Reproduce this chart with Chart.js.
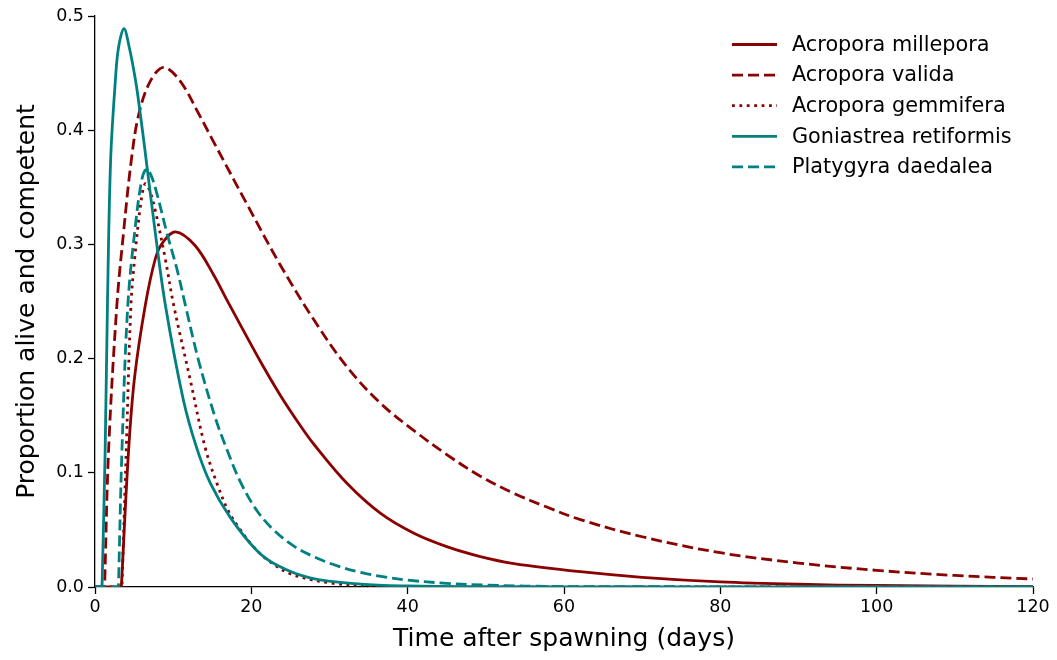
<!DOCTYPE html>
<html>
<head>
<meta charset="utf-8">
<script src="https://cdn.jsdelivr.net/npm/chart.js@4/dist/chart.umd.min.js"></script>
<style>
  html, body { margin: 0; padding: 0; background: #fff; }
</style>
</head>
<body>
<canvas id="chart" width="1057" height="660"></canvas>
<script>
// values (days after spawning, proportion)
// the onset point is listed twice so the spline turns a corner there instead of hooking
const milleporaDays   = [0, 3.37, 3.37, 4.3, 5.07, 6.44, 7.7, 8.6, 10.3, 12.8, 15.2, 16.9, 21.2, 23.7, 26.3, 28, 32.2, 36.5, 40.8, 45, 49.3, 53.6, 62.1, 70, 80, 90, 100, 120];
const milleporaValues = [0, 0, 0, 0.12, 0.184, 0.247, 0.287, 0.301, 0.311, 0.299, 0.273, 0.251, 0.197, 0.168, 0.141, 0.125, 0.091, 0.0646, 0.047, 0.0353, 0.0266, 0.0205, 0.0134, 0.0085, 0.0045, 0.0024, 0.0013, 0.0004];

const validaDays   = [0, 1.23, 1.23, 1.74, 2.8, 3.66, 4.65, 5.6, 7.08, 8.8, 10.9, 13.3, 15, 19.3, 23.7, 28, 32.2, 36.5, 40.8, 45, 49.3, 53.6, 57.8, 62.1, 70, 80, 90, 100, 110, 120];
const validaValues = [0, 0, 0, 0.12, 0.247, 0.311, 0.374, 0.414, 0.443, 0.455, 0.443, 0.414, 0.392, 0.337, 0.282, 0.234, 0.193, 0.161, 0.137, 0.116, 0.097, 0.082, 0.070, 0.059, 0.044, 0.030, 0.021, 0.0146, 0.0101, 0.007];

const gemmiferaDays   = [0, 3.45, 3.45, 4.0, 4.6, 5.07, 5.8, 6.4, 7.0, 7.7, 9.0, 10.06, 12.2, 14.1, 15.8, 17.1, 18.6, 20.3, 22.4, 25.4, 30.5, 35, 40, 50, 120];
const gemmiferaValues = [0, 0, 0, 0.12, 0.247, 0.287, 0.333, 0.353, 0.347, 0.33, 0.287, 0.247, 0.181, 0.122, 0.087, 0.066, 0.050, 0.035, 0.022, 0.0105, 0.0032, 0.0012, 0.0004, 0.0001, 0];

const goniastreaDays   = [0, 0.9, 0.9, 1.3, 1.6, 2.0, 2.6, 3.0, 3.7, 4.4, 5.2, 5.8, 6.4, 7.7, 9.0, 11.3, 13.0, 14.75, 17.3, 20.7, 23.3, 27.5, 34, 40, 50, 60, 120];
const goniastreaValues = [0, 0, 0, 0.12, 0.25, 0.374, 0.443, 0.472, 0.489, 0.472, 0.443, 0.414, 0.382, 0.311, 0.247, 0.164, 0.122, 0.091, 0.061, 0.032, 0.019, 0.008, 0.0025, 0.0009, 0.0002, 0.0001, 0];

const platygyraDays   = [0, 3.0, 3.0, 3.45, 4.2, 5.16, 6.0, 6.6, 7.2, 7.9, 9.2, 10.5, 11.55, 13.3, 15.4, 16.9, 18.6, 20.7, 22.85, 25.4, 28, 31, 34, 37, 40, 45, 50, 60, 120];
const platygyraValues = [0, 0, 0, 0.12, 0.247, 0.316, 0.357, 0.366, 0.360, 0.345, 0.31, 0.278, 0.247, 0.197, 0.148, 0.12, 0.092, 0.067, 0.050, 0.036, 0.0265, 0.0185, 0.0128, 0.0088, 0.006, 0.0032, 0.0017, 0.0004, 0];

const seriesNames = ['Acropora millepora', 'Acropora valida', 'Acropora gemmifera', 'Goniastrea retiformis', 'Platygyra daedalea'];
const xTicks = [0, 20, 40, 60, 80, 100, 120];
const yTicks = [0, 0.1, 0.2, 0.3, 0.4, 0.5];

const RED = '#8b0000';
const TEAL = '#008080';
const DASH = [11, 5];
const DOT = [2.8, 4.6];
const FONT = '"DejaVu Sans", sans-serif';

function toPoints(days, values) {
    return days.map((d, i) => ({ x: d, y: values[i] }));
}

function makeSet(label, days, values, color, dash, order) {
    return {
        label: label,
        data: toPoints(days, values),
        borderColor: color,
        borderWidth: 2.8,
        borderDash: dash,
        pointRadius: 0,
        fill: false,
        tension: 0.35,
        order: order
    };
}

// matplotlib style legend in the top right corner, no frame
const cornerLegend = {
    id: 'cornerLegend',
    afterDraw(chart) {
        const ctx = chart.ctx;
        ctx.save();
        chart.data.datasets.forEach((ds, i) => {
            const y = 44.5 + i * 30.6;
            ctx.beginPath();
            ctx.strokeStyle = ds.borderColor;
            ctx.lineWidth = ds.borderWidth;
            ctx.setLineDash(ds.borderDash);
            ctx.moveTo(732, y);
            ctx.lineTo(777, y);
            ctx.stroke();
            ctx.setLineDash([]);
            ctx.fillStyle = '#000';
            ctx.font = '20.8px ' + FONT;
            ctx.textBaseline = 'middle';
            ctx.fillText(ds.label, 792, y + 1);
        });
        ctx.restore();
    }
};

const ctx = document.getElementById('chart');
new Chart(ctx, {
    type: 'line',
    data: {
        datasets: [
            makeSet(seriesNames[0], milleporaDays, milleporaValues, RED, [], 4),
            makeSet(seriesNames[1], validaDays, validaValues, RED, DASH, 3),
            makeSet(seriesNames[2], gemmiferaDays, gemmiferaValues, RED, DOT, 2),
            makeSet(seriesNames[3], goniastreaDays, goniastreaValues, TEAL, [], 1),
            makeSet(seriesNames[4], platygyraDays, platygyraValues, TEAL, DASH, 0)
        ]
    },
    options: {
        responsive: false,
        animation: false,
        devicePixelRatio: 1,
        layout: { padding: { left: 0, right: 24, top: 16, bottom: 0 } },
        plugins: {
            legend: { display: false },
            tooltip: { enabled: false }
        },
        scales: {
            x: {
                type: 'linear',
                min: 0,
                max: 120,
                afterFit: (scale) => { scale.height = 73; },
                afterBuildTicks: (scale) => { scale.ticks = xTicks.map(v => ({ value: v })); },
                ticks: {
                    color: '#000',
                    font: { family: FONT, size: 17.5 },
                    padding: 3,
                    maxRotation: 0,
                    callback: (v) => String(v)
                },
                grid: {
                    drawOnChartArea: false,
                    drawTicks: true,
                    tickLength: 7,
                    tickWidth: 1.3,
                    tickColor: '#000'
                },
                border: { display: true, color: '#000', width: 1.3 },
                title: {
                    display: true,
                    text: 'Time after spawning (days)',
                    color: '#000',
                    font: { family: FONT, size: 25 },
                    padding: 6
                }
            },
            y: {
                type: 'linear',
                min: 0,
                max: 0.5,
                afterFit: (scale) => { scale.width = 95; },
                afterBuildTicks: (scale) => { scale.ticks = yTicks.map(v => ({ value: v })); },
                ticks: {
                    color: '#000',
                    font: { family: FONT, size: 17.5 },
                    padding: 4,
                    callback: (v) => Number(v).toFixed(1)
                },
                grid: {
                    drawOnChartArea: false,
                    drawTicks: true,
                    tickLength: 7,
                    tickWidth: 1.3,
                    tickColor: '#000'
                },
                border: { display: true, color: '#000', width: 1.3 },
                title: {
                    display: true,
                    text: 'Proportion alive and competent',
                    color: '#000',
                    font: { family: FONT, size: 25 },
                    padding: 12
                }
            }
        }
    },
    plugins: [cornerLegend]
});
</script>
</body>
</html>
